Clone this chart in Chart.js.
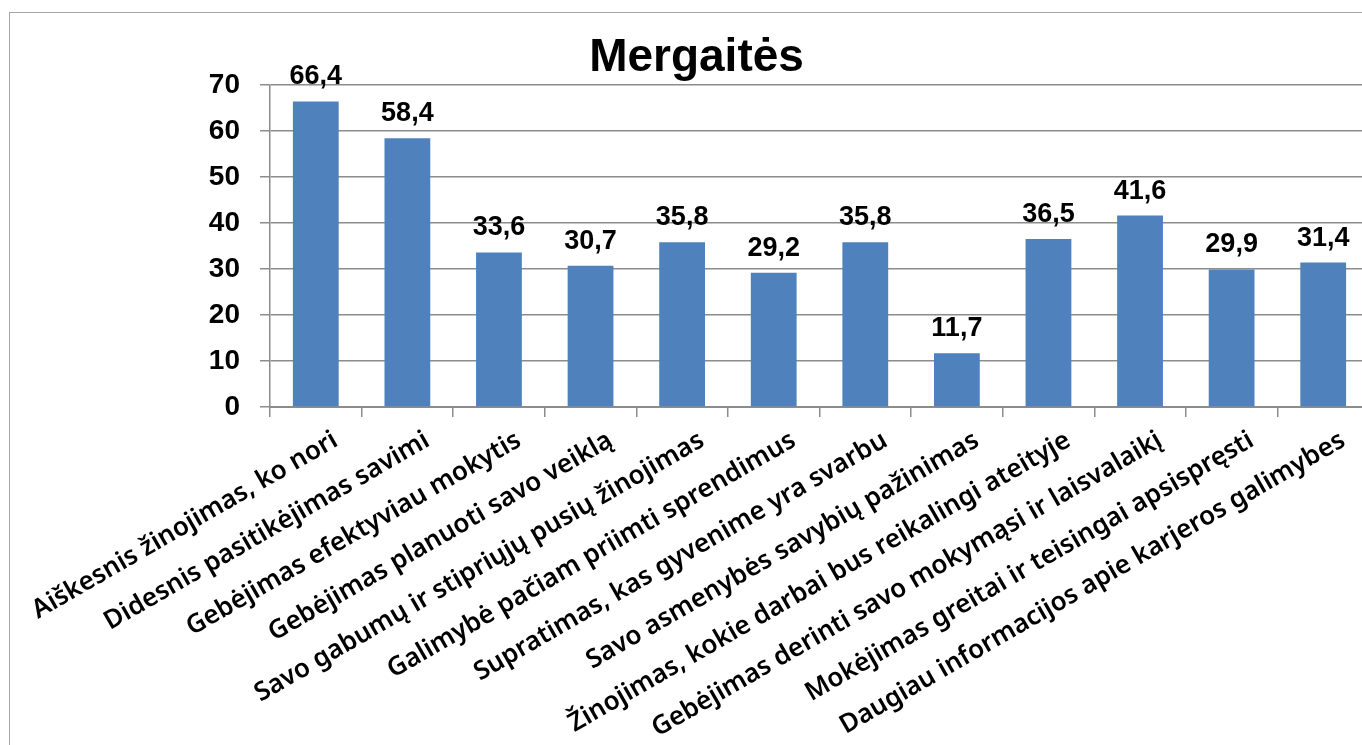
<!DOCTYPE html>
<html>
<head>
<meta charset="utf-8">
<script src="https://cdn.jsdelivr.net/npm/chart.js@4"></script>
<style>
  html, body { margin: 0; padding: 0; background: #fff; overflow: hidden; }
  #frame { position: absolute; left: 9px; top: 12px; width: 1420px; height: 800px; border: 1.5px solid #a6a6a6; }
  #wrap { position: absolute; left: 0; top: 0; width: 1392px; height: 745px; }
</style>
</head>
<body>
<div id="frame"></div>
<div id="wrap"><canvas id="chart" width="1392" height="745"></canvas></div>
<script>
const categories = [
    'Aiškesnis žinojimas, ko nori',
    'Didesnis pasitikėjimas savimi',
    'Gebėjimas efektyviau mokytis',
    'Gebėjimas planuoti savo veiklą',
    'Savo gabumų ir stipriųjų pusių žinojimas',
    'Galimybė pačiam priimti sprendimus',
    'Supratimas, kas gyvenime yra svarbu',
    'Savo asmenybės savybių pažinimas',
    'Žinojimas, kokie darbai bus reikalingi ateityje',
    'Gebėjimas derinti savo mokymąsi ir laisvalaikį',
    'Mokėjimas greitai ir teisingai apsispręsti',
    'Daugiau informacijos apie karjeros galimybes'
];
const values = [66.4, 58.4, 33.6, 30.7, 35.8, 29.2, 35.8, 11.7, 36.5, 41.6, 29.9, 31.4];
const yTicks = [0, 10, 20, 30, 40, 50, 60, 70];
const chartTitle = 'Mergaitės';

// draws the value above each bar, lithuanian decimal comma
const valueLabels = {
    id: 'valueLabels',
    afterDatasetsDraw(chart) {
        const ctx = chart.ctx;
        const meta = chart.getDatasetMeta(0);
        ctx.save();
        ctx.font = 'bold 27px "Liberation Sans", Arial, sans-serif';
        ctx.fillStyle = '#000';
        ctx.textAlign = 'center';
        ctx.textBaseline = 'alphabetic';
        meta.data.forEach((bar, i) => {
            ctx.fillText(values[i].toFixed(1).replace('.', ','), bar.x, bar.y - 17);
        });
        ctx.restore();
    }
};

new Chart(document.getElementById('chart'), {
    type: 'bar',
    data: {
        labels: categories,
        datasets: [{
            data: values,
            backgroundColor: '#4F81BD',
            borderWidth: 0,
            barPercentage: 0.5,
            categoryPercentage: 1.0
        }]
    },
    options: {
        responsive: false,
        animation: false,
        layout: { padding: { left: 24, right: 23, top: 0, bottom: 0 } },
        plugins: {
            legend: { display: false },
            tooltip: { enabled: false },
            title: {
                display: true,
                text: chartTitle,
                color: '#000',
                font: { family: '"Liberation Sans", Arial, sans-serif', size: 46, weight: 'bold', lineHeight: 1.15 },
                padding: { top: 32, bottom: 0 }
            }
        },
        scales: {
            x: {
                // fixed band for the slanted labels, like the original
                afterFit: (scale) => { scale.height = 338; scale.paddingLeft = 0; },
                grid: { offset: true, drawOnChartArea: false, color: '#8c8c8c', lineWidth: 1.5, tickLength: 10 },
                border: { color: '#8c8c8c', width: 2 },
                ticks: {
                    autoSkip: false,
                    minRotation: 30,
                    maxRotation: 30,
                    labelOffset: 20,
                    padding: 8,
                    color: '#000',
                    font: { family: '"Noto Sans", sans-serif', size: 26, weight: 600 }
                }
            },
            y: {
                min: 0,
                max: 70,
                afterBuildTicks: (scale) => { scale.ticks = yTicks.map(v => ({ value: v })); },
                afterFit: (scale) => { scale.width = 246; },
                grid: { color: '#8c8c8c', lineWidth: 1.5, tickLength: 10 },
                border: { color: '#8c8c8c', width: 1.5 },
                ticks: {
                    padding: 20,
                    color: '#000',
                    font: { family: '"Liberation Sans", Arial, sans-serif', size: 28, weight: 'bold' }
                }
            }
        }
    },
    plugins: [valueLabels]
});
</script>
</body>
</html>
